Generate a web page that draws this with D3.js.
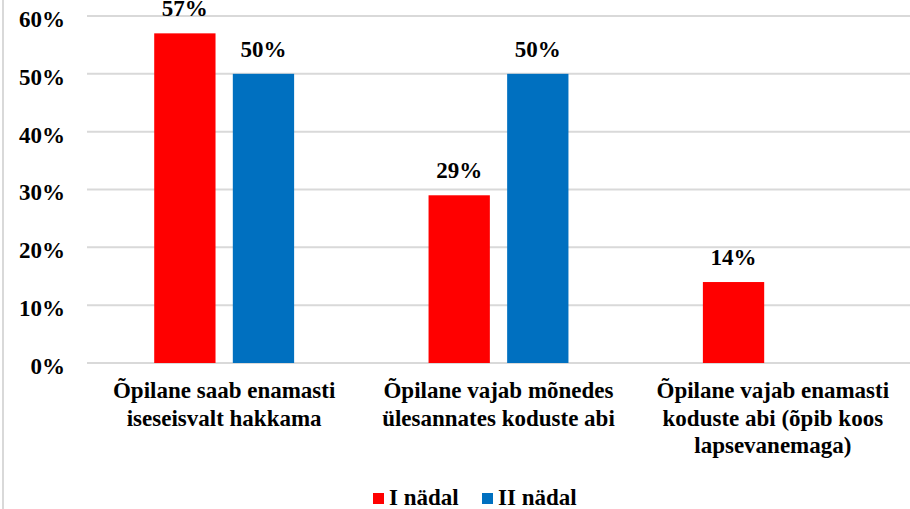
<!DOCTYPE html>
<html>
<head>
  <meta charset="utf-8">
  <title></title>
  <style>
    body { margin: 0; background: #fff; }
    svg { display: block; }
  </style>
</head>
<body>
  <svg width="910" height="509"></svg>

  <script src="https://cdn.jsdelivr.net/npm/d3@7"></script>
  <script>

  var categories = [
    ["Õpilane saab enamasti", "iseseisvalt hakkama"],
    ["Õpilane vajab mõnedes", "ülesannates koduste abi"],
    ["Õpilane vajab enamasti", "koduste abi (õpib koos", "lapsevanemaga)"]
  ];
  var seriesNames = ["I nädal", "II nädal"];
  var seriesColors = ["#ff0000", "#0070c0"];
  var week1 = [57, 29, 14];
  var week2 = [50, 50, 0];
  var yTicks = [0, 10, 20, 30, 40, 50, 60];

  var fontSize = "23px";

  function serif(sel) {
    sel.style("font-family", "'Liberation Serif'")
       .style("font-weight", "bold")
       .style("font-size", fontSize)
       .style("fill", "#000");
  }

  var svg = d3.select("svg"),
      margin = {top: 16, right: 0, bottom: 146, left: 87},
      width = 910 - margin.left - margin.right,
      height = 509 - margin.top - margin.bottom;

  // frame edge on the left
  svg.append("line")
      .attr("x1", 3).attr("x2", 3)
      .attr("y1", 0).attr("y2", 509)
      .attr("stroke", "#d9d9d9")
      .attr("stroke-width", 2);

  var g = svg.append("g").attr("transform", "translate(" + margin.left + "," + margin.top + ")");

  var x0 = d3.scaleBand()
      .domain(d3.range(categories.length))
      .range([0, width])
      .paddingInner(0.49)
      .paddingOuter(0.245);

  var x1 = d3.scaleBand()
      .domain(d3.range(seriesNames.length))
      .range([0, x0.bandwidth()])
      .paddingInner(0.22);

  var y = d3.scaleLinear().domain([0, 60]).range([height, 0]);

  // gridlines
  g.selectAll(".grid")
    .data(yTicks)
    .enter().append("line")
      .attr("x1", 0).attr("x2", width)
      .attr("y1", function(d) { return y(d); })
      .attr("y2", function(d) { return y(d); })
      .attr("stroke", "#d9d9d9")
      .attr("stroke-width", 2);

  // y axis labels
  var yAxis = g.append("g")
      .call(d3.axisLeft(y).tickValues(yTicks).tickSize(0).tickPadding(22)
        .tickFormat(function(d) { return d + "%"; }));
  yAxis.select(".domain").remove();
  yAxis.selectAll("text")
      .attr("dy", "0.45em")
      .call(serif);

  var rows = categories.map(function(c, i) { return [week1[i], week2[i]]; });

  var groups = g.selectAll(".grp")
    .data(rows)
    .enter().append("g")
      .attr("transform", function(d, i) { return "translate(" + x0(i) + ",0)"; });

  groups.selectAll("rect")
    .data(function(d) { return d; })
    .enter().filter(function(d) { return d > 0; }).append("rect")
      .attr("x", function(d, j) { return x1(j); })
      .attr("y", function(d) { return y(d); })
      .attr("width", x1.bandwidth())
      .attr("height", function(d) { return height - y(d); })
      .attr("fill", function(d, j) { return seriesColors[j]; });

  groups.selectAll(".lbl")
    .data(function(d) { return d; })
    .enter().filter(function(d) { return d > 0; }).append("text")
      .attr("x", function(d, j) { return x1(j) + x1.bandwidth() / 2; })
      .attr("y", function(d) { return y(d) - 17; })
      .attr("text-anchor", "middle")
      .call(serif)
      .text(function(d) { return d + "%"; });

  // category labels
  var cat = g.selectAll(".cat")
    .data(categories)
    .enter().append("text")
      .attr("text-anchor", "middle")
      .call(serif)
      .attr("transform", function(d, i) { return "translate(" + (x0(i) + x0.bandwidth() / 2) + "," + (height + 35) + ")"; });
  cat.selectAll("tspan")
    .data(function(d) { return d; })
    .enter().append("tspan")
      .attr("x", 0)
      .attr("y", function(d, k) { return k * 27.5; })
      .text(function(d) { return d; });

  // legend
  var legendX = [373, 482];
  var legend = svg.selectAll(".legend")
    .data(seriesNames)
    .enter().append("g")
      .attr("transform", function(d, i) { return "translate(" + legendX[i] + ",493)"; });
  legend.append("rect")
      .attr("width", 11).attr("height", 11)
      .attr("fill", function(d, i) { return seriesColors[i]; });
  legend.append("text")
      .attr("x", 16)
      .attr("y", 12)
      .call(serif)
      .text(function(d) { return d; });

  </script>
</body>
</html>
